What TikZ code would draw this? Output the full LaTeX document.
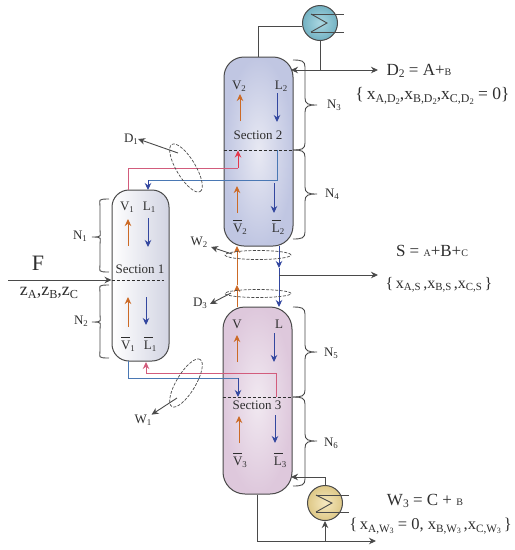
\documentclass[tikz,border=0pt]{standalone}
\usepackage{fontspec}
\usepackage{graphicx}
\setmainfont{Liberation Serif}
\usetikzlibrary{arrows.meta,shapes.geometric,calc}
\newcommand{\fs}[1]{\fontsize{#1}{#1}\selectfont}
\newcommand{\sbt}[1]{\raisebox{-0.3ex}{\scalebox{.68}{#1}}}
\newcommand{\ssbt}[1]{\raisebox{-0.3ex}{\scalebox{.72}{#1}}}
\newcommand{\ovl}[1]{\makebox[0pt][l]{\raisebox{0.92em}{\rule{0.68em}{0.55pt}}}#1}
\newcommand{\bracer}[6]{\draw[brace] (#1,#4) .. controls ({#2-3},#4) and (#2,{#4+1}) .. (#2,{#4+7}) -- (#2,{#5-7}) .. controls (#2,{#5-1}) and ({#2+3},#5) .. (#3,#5) .. controls ({#2+3},#5) and (#2,{#5+1}) .. (#2,{#5+7}) -- (#2,{#6-7}) .. controls (#2,{#6-1}) and ({#2-3},#6) .. (#1,#6);}
\definecolor{cgray}{HTML}{4A4A4A}
\definecolor{corange}{HTML}{CC6A26}
\definecolor{cblue}{HTML}{33479F}
\definecolor{cbluel}{HTML}{4A78B4}
\definecolor{cred}{HTML}{D25C7C}
\definecolor{ctxt}{HTML}{2E2E2E}
\tikzset{
  x=1pt,y=-1pt,
  tipp/.tip={Stealth[length=7pt,width=6.5pt]},
  col/.style={draw=cgray,line width=1pt,rounded corners=#1,inner sep=0pt},
  pipe/.style={draw=cgray,line width=0.9pt},
  tp/.style={pipe,-tipp},
  oa/.style={draw=corange,line width=0.95pt,-tipp},
  ba/.style={draw=cblue,line width=0.95pt,-tipp},
  bl/.style={draw=cbluel,line width=0.95pt},
  rl/.style={draw=cred,line width=0.95pt},
  dsh/.style={draw=ctxt,line width=0.7pt,dash pattern=on 3pt off 2pt},
  ring/.style={ellipse,draw=cgray,line width=0.7pt,dash pattern=on 3pt off 1.5pt,inner sep=0pt},
  brace/.style={draw=cgray,line width=0.9pt},
  lb/.style={text=ctxt,inner sep=0pt,font=\fs{13}},
  eq/.style={text=ctxt,inner sep=0pt,font=\fs{16}},
  hx/.style={circle,draw=cgray,line width=1pt,minimum size=35pt,inner sep=0pt},
}
\begin{document}
\begin{tikzpicture}
\useasboundingbox (0,0) rectangle (515,550);
% columns
\node[col=20pt,minimum width=69pt,minimum height=189pt,inner color={rgb,255:red,232;green,233;blue,243},outer color={rgb,255:red,192;green,198;blue,226}] (c2) at (258.5,151.5) {};
\node[col=22pt,minimum width=69pt,minimum height=187pt,inner color={rgb,255:red,241;green,233;blue,241},outer color={rgb,255:red,222;green,200;blue,220}] (c3) at (257.5,400.5) {};
\node[col=17pt,minimum width=57pt,minimum height=171pt,left color=white,right color={rgb,255:red,210;green,212;blue,226}] (c1) at (140.5,275.5) {};
% exchangers
\node[hx,inner color={rgb,255:red,170;green,215;blue,225},outer color={rgb,255:red,115;green,178;blue,195}] (cond) at (320,23) {};
\node[hx,inner color={rgb,255:red,245;green,232;blue,190},outer color={rgb,255:red,222;green,200;blue,135}] (reb) at (325,503) {};
\foreach \h/\yt/\yb in {cond/14/32,reb/495/512}{
  \coordinate (\h a) at (\h.center |- 0,\yt);
  \coordinate (\h b) at (\h.center |- 0,\yb);
  \draw[pipe] ($(\h a)+(-9,0)$) -- ($(\h a)+(24,0)$);
  \draw[pipe] ($(\h b)+(-9,0)$) -- ($(\h b)+(24,0)$);
  \draw[pipe] ($(\h a)+(-9,0)$) -- ($(\h.center)+(7,0)$) -- ($(\h b)+(-9,0)$);
}
% dashed section lines
\draw[dsh] (c2.west |- 0,150) -- (c2.east |- 0,150);
\draw[dsh] (c3.west |- 0,397) -- (c3.east |- 0,397);
\draw[dsh] (c1.west |- 0,280) -- (164,280);
% pipes top and bottom
\coordinate (cp) at (c2.north);
\draw[pipe] (c2.north) |- (cond.west |- 0,26);
\coordinate (d2j) at (cond.south |- 0,70);
\draw[pipe] (cond.south) -- (d2j);
\draw[tp] (d2j) -- (291,70);
\draw[tp] (d2j) -- (378,70);
\coordinate (bj) at (reb.south |- 0,541);
\draw[pipe] (c3.south) |- (bj);
\draw[tp] (bj) -- (376,541);
\draw[tp] (bj) -- (reb.south);
\draw[tp] (reb.north) |- (291,477);
% feed
\coordinate (fs) at (8,280);
\draw[tp] (fs) -- (c1.west |- 0,280);
% interconnects
\coordinate (r1) at (128,190);
\coordinate (r2) at (238,150.5);
\draw[rl] (r1) |- (238,168);
\draw[draw=cred!60!red,line width=0.95pt,-tipp] (238,168) -- (r2);
\coordinate (b1) at (148,190);
\draw[bl] (277,150) |- (148,180);
\draw[draw=cblue,line width=0.95pt,-tipp] (148,180) -- (b1);
\coordinate (b3) at (128,361);
\draw[bl] (b3) |- (238,378);
\draw[draw=cblue,line width=0.95pt,-tipp] (238,378) -- (238,397);
\draw[rl] (276,397) |- (146,373);
\draw[draw=cred,line width=0.95pt,-tipp] (146,373) -- (146,362);
% middle links
\coordinate (oA) at (237,307); \coordinate (oB) at (237,285); \coordinate (oC) at (237,246);
\draw[oa] (oA) -- (oB);
\draw[oa] (oB) -- (oC);
\coordinate (bA) at (279,246); \coordinate (bB) at (279,268); \coordinate (bC) at (279,307);
\draw[ba] (bA) -- (bB);
\draw[ba] (bB) -- (bC);
\coordinate (sj) at (279,275);
\draw[tp] (sj) -- (378,275);
% rings
\node[ring,minimum width=66pt,minimum height=9pt] (rw2) at (258,255) {};
\node[ring,minimum width=66pt,minimum height=8pt] (rd3) at (258,293.5) {};
\node[ring,minimum width=55pt,minimum height=19pt,rotate=-59] (rd1) at (186,168) {};
\node[ring,minimum width=55pt,minimum height=19pt,rotate=59] (rw1) at (186,383) {};
% labels of side draws
\node[lb] (D1) at (131,139) {D\sbt{1}};
\node[lb] (W1) at (143,420) {W\sbt{1}};
\node[lb] (W2) at (199,242) {W\sbt{2}};
\node[lb] (D3) at (200,303) {D\sbt{3}};
\coordinate (d1s) at (178,153); \draw[tp] (d1s) -- (D1.east);
\coordinate (w1s) at (177,398); \draw[tp] (w1s) -- (W1.north east);
\coordinate (w2s) at (232,254); \draw[tp] (w2s) -- (211,247);
\coordinate (d3s) at (231,293); \draw[tp] (d3s) -- (210,304);
% internal arrows
\foreach \n/\xa/\ya/\xb/\yb/\st in {
 a/128/246/128/219/oa, b/148/218/148/247/ba, c/128/327/128/297/oa, d/146/297/146/325/ba,
 e/240/121/240/94/oa, f/277/93/277/122/ba, g/237/213/237/186/oa, h/274/183/274/213/ba,
 i/237/362/237/335/oa, j/274/333/274/362/ba, k/239/443/239/416/oa, l/275/415/275/443/ba}{
  \coordinate (s\n) at (\xa,\ya); \coordinate (t\n) at (\xb,\yb);
  \draw[\st] (s\n) -- (t\n);
}
% inner labels
\node[lb] (v1) at (127,207) {V\sbt{1}};
\node[lb] (l1) at (149,207) {L\sbt{1}};
\node[lb] (s1) at (140,269) {Section 1};
\node[lb] (vb1) at (128,344) {\ovl{V}\sbt{1}};
\node[lb] (lb1) at (150,344) {\ovl{L}\sbt{1}};
\node[lb] (v2) at (239,86) {V\sbt{2}};
\node[lb] (l2) at (281,86) {L\sbt{2}};
\node[lb] (s2) at (258,135) {Section 2};
\node[lb] (vb2) at (240,227) {\ovl{V}\sbt{2}};
\node[lb] (lb2) at (278,227) {\ovl{L}\sbt{2}};
\node[lb] (v3) at (237,324) {V};
\node[lb] (l3) at (279,324) {L};
\node[lb] (s3) at (257,405) {Section 3};
\node[lb] (vb3) at (240,460) {\ovl{V}\sbt{3}};
\node[lb] (lb3) at (280,460) {\ovl{L}\sbt{3}};
% braces
\bracer{109}{100}{92}{199}{237}{272}
\bracer{109}{100}{92}{285}{322}{358}
\bracer{293}{305}{317}{60}{105}{150}
\bracer{293}{305}{317}{150}{194}{239}
\bracer{293}{305}{317}{307}{352}{397}
\bracer{293}{305}{317}{397}{441}{486}
\node[lb] (n1) at (80,236) {N\sbt{1}};
\node[lb] (n2) at (81,321) {N\sbt{2}};
\node[lb] (n3) at (334,105) {N\sbt{3}};
\node[lb] (n4) at (332,194) {N\sbt{4}};
\node[lb] (n5) at (331,353) {N\sbt{5}};
\node[lb] (n6) at (331,443) {N\sbt{6}};
% equations
\node[text=ctxt,inner sep=0pt,font=\fs{22}] (F) at (38,263) {F};
\node[eq,font=\fs{18}] (z) at (49,293) {z\sbt{A},z\sbt{B},z\sbt{C}};
\node[eq,font=\fs{17}] (e1) at (419,71) {D\sbt{2} = A+{\fs{10}B}};
\node[eq,font=\fs{17.5}] (e2) at (432.5,96) {\{\,x\sbt{A,D\ssbt{2}},x\sbt{B,D\ssbt{2}},x\sbt{C,D\ssbt{2}} = 0\}};
\node[eq,font=\fs{17}] (e3) at (432,251) {S = {\fs{10}A}+B+{\fs{10}C}};
\node[eq] (e4) at (439,285) {\{\,x\sbt{A,S}\,,x\sbt{B,S}\,,x\sbt{C,S}\,\}};
\node[eq,font=\fs{17}] (e5) at (425,501) {W\sbt{3} = C + {\fs{10}B}};
\node[eq,font=\fs{16.5}] (e6) at (430.5,526) {\{\,x\sbt{A,W\ssbt{3}} = 0, x\sbt{B,W\ssbt{3}}\,,x\sbt{C,W\ssbt{3}}\,\}};
\end{tikzpicture}
\end{document}
